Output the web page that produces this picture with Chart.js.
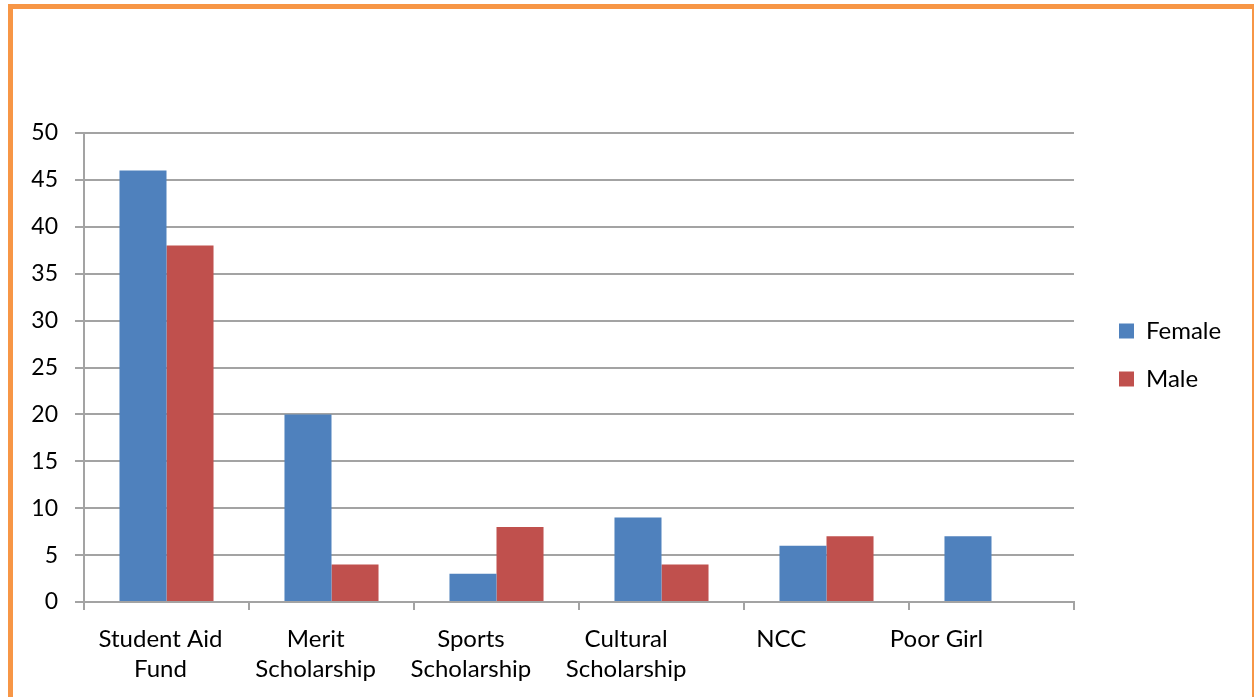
<!DOCTYPE html>
<html lang="en">
<head>
    <meta charset="UTF-8">
    <title>Scholarships by Gender</title>
    <script src="https://cdn.jsdelivr.net/npm/chart.js@4.4.0/dist/chart.umd.min.js"></script>
    <style>
        html, body {
            margin: 0;
            padding: 0;
            background: #fff;
            overflow: hidden;
        }
        #frame {
            position: absolute;
            left: 8px;
            top: 4px;
            width: 1249px;
            height: 800px;
            box-sizing: border-box;
            border: 5px solid #F79646;
        }
        #wrap {
            position: absolute;
            left: 0;
            top: 0;
            width: 1254px;
            height: 697px;
        }
    </style>
</head>
<body>
    <div id="frame"></div>
    <div id="wrap"><canvas id="chart"></canvas></div>

    <script>
        const categories = [
            ['Student Aid', 'Fund'],
            ['Merit', 'Scholarship'],
            ['Sports', 'Scholarship'],
            ['Cultural', 'Scholarship'],
            'NCC',
            'Poor Girl'
        ];
        const female = [46, 20, 3, 9, 6, 7];
        const male = [38, 4, 8, 4, 7, null];
        const yTicks = [0, 5, 10, 15, 20, 25, 30, 35, 40, 45, 50];

        const gridGray = '#A3A3A3';
        const fontFamily = 'Lato, "Open Sans", sans-serif';

        // legend sits a bit right of the plot and above its middle
        const legendShift = {
            id: 'legendShift',
            beforeInit(chart) {
                const lg = chart.legend;
                const fit = lg.fit;
                lg.fit = function () {
                    fit.call(this);
                    this.width = 180;
                };
            },
            afterLayout(chart) {
                const lg = chart.legend;
                lg.left = chart.chartArea.right + 21;
                lg.top -= 60;
                lg.bottom -= 60;
            }
        };

        // the category labels in the original drift left a little more each step
        const labelDrift = {
            id: 'labelDrift',
            afterUpdate(chart) {
                const items = chart.scales.x.getLabelItems(chart.chartArea);
                items.forEach((it, i) => {
                    it.options.translation[0] -= 6 + 9.8 * i;
                });
            }
        };

        new Chart(document.getElementById('chart'), {
            type: 'bar',
            data: {
                labels: categories,
                datasets: [{
                    label: 'Female',
                    data: female,
                    backgroundColor: '#4F81BD',
                    categoryPercentage: 0.57,
                    barPercentage: 1.0
                }, {
                    label: 'Male',
                    data: male,
                    backgroundColor: '#C0504D',
                    categoryPercentage: 0.57,
                    barPercentage: 1.0
                }]
            },
            options: {
                responsive: true,
                maintainAspectRatio: false,
                animation: false,
                layout: {
                    padding: { top: 133, left: 0, right: 0, bottom: 0 }
                },
                plugins: {
                    legend: {
                        position: 'right',
                        labels: {
                            boxWidth: 15,
                            boxHeight: 15,
                            padding: 24,
                            color: '#000',
                            font: { family: fontFamily, size: 24 }
                        }
                    },
                    tooltip: { enabled: false }
                },
                scales: {
                    x: {
                        grid: {
                            drawOnChartArea: false,
                            drawTicks: true,
                            tickLength: 8,
                            color: gridGray,
                            lineWidth: 2
                        },
                        border: { color: gridGray, width: 2 },
                        ticks: {
                            color: '#000',
                            padding: 14,
                            maxRotation: 0,
                            autoSkip: false,
                            font: { family: fontFamily, size: 24, lineHeight: 1.25 }
                        },
                        afterFit(scale) { scale.height = 95; }
                    },
                    y: {
                        min: 0,
                        max: 50,
                        afterBuildTicks(scale) {
                            scale.ticks = yTicks.map(v => ({ value: v }));
                        },
                        grid: {
                            color: gridGray,
                            lineWidth: 2,
                            tickLength: 9
                        },
                        border: { color: gridGray, width: 2 },
                        ticks: {
                            color: '#000',
                            padding: 17,
                            font: { family: fontFamily, size: 23 }
                        },
                        afterFit(scale) { scale.width = 84; }
                    }
                }
            },
            plugins: [legendShift, labelDrift]
        });
    </script>
</body>
</html>
